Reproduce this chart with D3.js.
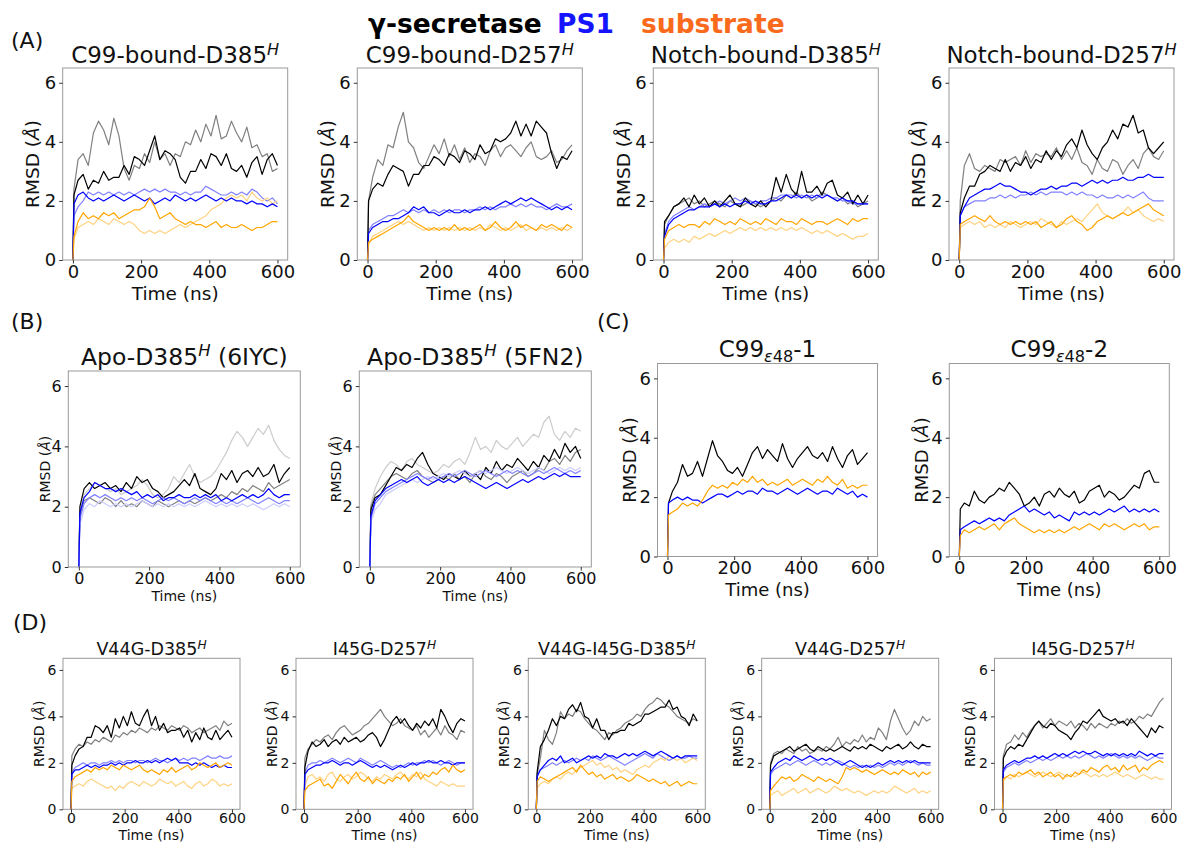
<!DOCTYPE html>
<html>
<head>
<meta charset="utf-8">
<script src="https://cdn.jsdelivr.net/npm/d3@7"></script>
<style>
  body { margin: 0; background: #fff; }
  svg { display: block; font-family: "DejaVu Sans", sans-serif; }
</style>
</head>
<body>
<svg id="chart" width="1185" height="844"></svg>
<script>
// sampling times (ns) shared by every series
const times = [0, 3, 15, 30, 45, 60, 75, 90, 105, 120, 135, 150, 165, 180, 195, 210, 225, 240, 255, 270, 285, 300,
  315, 330, 345, 360, 375, 390, 405, 420, 435, 450, 465, 480, 495, 510, 525, 540, 555, 570, 585, 600];
const timeTicks = [0, 200, 400, 600];
const rmsdTicks = [0, 2, 4, 6];

// rows: gamma-secretase rep2, PS1 rep2, substrate rep2, gamma-secretase rep1, PS1 rep1, substrate rep1
const c99D385 = [
  [0, 2.4, 3.4,3.6,3.2,4.3,4.7,4.4,3.9,4.8,4.2,3.1, 2.7,3.2,3.1,3.6,3.3,4.0,3.4,3.6,3.2,3.6, 3.5,4.0,3.9,4.4,4.0,4.6,4.2,4.9,4.1,4.2, 4.7,4.3,4.0,4.5,3.8,3.9,3.5,3.6,3.0,3.1],
  [0, 1.5, 1.8,2.0,2.3,2.2,2.3,2.2,2.3,2.2,2.3,2.2, 2.3,2.2,2.3,2.4,2.3,2.4,2.3,2.4,2.3,2.3, 2.2,2.3,2.2,2.3,2.3,2.5,2.4,2.3,2.2,2.2, 2.3,2.2,2.3,2.2,2.4,2.3,2.1,2.0,2.1,1.9],
  [0, 0.7, 1.1,1.2,1.3,1.2,1.4,1.3,1.2,1.4,1.3,1.2, 1.3,1.2,1.0,0.9,1.0,0.9,1.0,0.9,1.0,1.1, 1.2,1.1,1.2,1.3,1.4,1.5,1.7,1.8,1.9,2.1, 2.2,2.1,2.2,2.0,2.3,2.1,2.0,2.1,1.9,2.0],
  [0, 2.2, 2.7,2.9,2.4,2.7,2.6,3.0,2.7,2.8,2.8,3.2, 2.9,3.5,3.4,3.2,3.7,4.2,3.4,3.7,3.6,3.4, 2.8,2.6,3.0,3.0,3.4,3.1,3.6,3.5,3.2,3.6, 3.1,3.0,3.2,2.8,3.3,3.5,2.9,3.4,3.6,3.2],
  [0, 1.9, 2.2,2.3,2.1,2.0,2.1,2.0,2.1,2.2,2.1,2.0, 2.1,2.2,2.1,2.0,2.1,1.9,2.0,2.1,2.0,2.2, 2.1,2.0,2.1,2.0,2.1,2.2,2.1,2.0,2.1,2.0, 2.1,2.0,2.0,1.9,2.0,1.9,1.9,1.8,1.9,1.8],
  [0, 0.8, 1.3,1.6,1.4,1.5,1.4,1.6,1.5,1.6,1.4,1.5, 1.6,1.7,1.7,1.8,2.1,1.8,1.4,1.5,1.6,1.4, 1.3,1.2,1.3,1.2,1.2,1.1,1.2,1.3,1.1,1.2, 1.1,1.1,1.2,1.1,1.0,1.1,1.1,1.2,1.3,1.3]
];
const c99D257 = [
  [0, 2.0, 2.8,3.4,3.2,3.9,3.8,4.5,5.0,4.0,3.8,3.3, 3.1,3.5,3.9,3.6,4.1,3.5,3.9,3.4,3.8,3.3, 3.6,3.5,3.2,3.7,3.9,3.5,3.8,3.9,3.7,3.5, 3.8,4.0,3.5,3.4,3.5,3.7,3.3,3.4,3.7,3.9],
  [0, 1.0, 1.2,1.3,1.4,1.5,1.5,1.6,1.7,1.6,1.7,1.6, 1.7,1.6,1.7,1.6,1.7,1.6,1.7,1.7,1.6,1.7, 1.7,1.8,1.7,1.8,1.7,1.8,1.8,1.9,1.8,1.9, 1.8,1.9,1.8,1.8,1.7,1.8,1.9,1.8,1.8,1.9],
  [0, 0.5, 0.8,0.9,1.0,1.1,1.2,1.3,1.2,1.3,1.2,1.1, 1.0,1.1,1.0,1.1,1.0,1.1,1.0,1.1,1.0,1.1, 1.0,1.1,1.0,1.2,1.1,1.0,1.1,1.0,1.1,1.2, 1.0,1.1,1.0,1.1,1.0,1.1,1.0,1.1,1.0,1.1],
  [0, 2.0, 2.4,2.6,2.5,2.9,3.2,3.1,3.0,2.5,2.9,2.9, 3.2,3.2,3.5,3.4,3.2,3.6,3.5,3.3,3.7,3.6, 3.4,3.9,3.6,3.7,4.1,4.0,4.1,4.3,4.7,4.2, 4.6,4.2,4.7,4.5,4.3,3.6,3.1,3.5,3.4,3.7],
  [0, 0.9, 1.1,1.2,1.3,1.3,1.4,1.4,1.5,1.6,1.8,1.7, 1.8,1.6,1.6,1.5,1.6,1.7,1.6,1.6,1.7,1.6, 1.7,1.7,1.8,1.7,1.8,1.9,2.0,1.9,2.0,2.1, 2.0,2.1,2.0,1.9,1.8,1.7,1.8,1.7,1.8,1.7],
  [0, 0.6, 0.7,0.8,0.9,1.0,1.1,1.2,1.3,1.5,1.3,1.2, 1.1,1.0,1.1,1.0,1.1,1.0,1.2,1.0,1.1,1.0, 1.1,1.2,1.0,1.1,1.3,1.1,1.0,1.1,1.3,1.1, 1.2,1.1,1.0,1.2,1.1,1.2,1.1,1.0,1.2,1.1]
];
const notchD385 = [
  [0, 1.2, 1.5,1.8,1.9,2.0,2.1,1.9,2.0,1.8,1.9,2.0, 1.9,1.8,2.0,1.9,1.8,1.9,2.0,1.9,1.8,1.9, 2.0,2.1,2.0,2.2,2.1,2.3,2.1,2.2,2.0,2.1, 2.3,2.2,2.1,2.0,2.1,1.9,2.0,1.8,1.9,2.0],
  [0, 0.9, 1.3,1.5,1.6,1.7,1.8,1.7,1.8,1.9,1.8,1.9, 2.0,1.9,2.0,2.1,2.0,2.1,2.0,1.9,2.0,2.0, 2.1,2.1,2.2,2.2,2.2,2.1,2.2,2.1,2.2,2.1, 2.2,2.2,2.1,2.1,2.0,2.0,1.9,1.9,1.9,1.9],
  [0, 0.4, 0.6,0.7,0.6,0.7,0.6,0.8,0.7,0.8,0.9,0.8, 0.9,1.0,0.9,1.0,1.1,1.0,1.1,1.0,1.1,1.0, 1.1,1.0,1.1,1.0,1.1,1.0,1.1,1.0,0.9,1.0, 0.9,1.0,0.9,0.8,0.9,0.8,0.7,0.8,0.8,0.9],
  [0, 1.3, 1.5,1.8,1.9,2.1,1.8,2.2,1.9,2.1,1.8,2.0, 1.8,2.0,2.2,1.9,1.8,2.1,1.9,1.8,2.0,1.8, 2.0,2.8,2.3,2.9,2.4,2.2,3.0,2.3,2.3,2.5, 2.2,2.6,2.7,2.2,2.1,2.3,1.9,2.2,1.9,2.2],
  [0, 0.8, 1.2,1.4,1.5,1.6,1.7,1.7,1.8,1.8,1.8,1.9, 1.8,1.9,1.8,1.9,1.9,2.0,1.9,2.0,1.9,1.9, 2.0,2.0,2.1,2.2,2.1,2.2,2.1,2.2,2.1,2.2, 2.1,2.2,2.1,2.0,2.1,2.0,2.0,1.9,1.9,1.9],
  [0, 0.7, 1.0,1.1,1.2,1.1,1.2,1.2,1.1,1.3,1.2,1.4, 1.3,1.2,1.3,1.2,1.4,1.3,1.2,1.3,1.2,1.4, 1.3,1.2,1.4,1.3,1.3,1.2,1.4,1.3,1.2,1.3, 1.3,1.2,1.3,1.4,1.3,1.2,1.4,1.3,1.4,1.4]
];
const notchD257 = [
  [0, 2.0, 3.2,3.6,3.1,3.0,3.2,3.1,3.0,3.4,3.3,3.4, 3.5,3.2,3.7,3.3,3.6,3.5,3.6,3.5,3.8,3.4, 3.7,3.4,3.8,3.3,3.2,2.9,3.4,3.1,3.0,3.4, 3.3,2.9,3.2,3.4,3.1,3.6,3.8,3.5,3.4,3.7],
  [0, 1.5, 1.8,1.9,2.0,2.0,2.0,2.1,2.1,2.2,2.1,2.2, 2.1,2.2,2.2,2.3,2.2,2.3,2.2,2.3,2.3,2.3, 2.2,2.3,2.2,2.3,2.2,2.2,2.1,2.2,2.1,2.1, 2.2,2.1,2.2,2.1,2.2,2.3,2.1,2.0,2.0,2.0],
  [0, 1.1, 1.2,1.3,1.2,1.3,1.1,1.2,1.1,1.2,1.1,1.3, 1.2,1.1,1.2,1.3,1.2,1.4,1.3,1.2,1.1,1.3, 1.2,1.3,1.4,1.3,1.5,1.7,1.9,1.6,1.5,1.4, 1.5,1.6,1.8,1.6,1.7,1.5,1.4,1.3,1.4,1.3],
  [0, 1.6, 2.1,2.5,2.5,2.9,3.0,3.2,3.1,3.0,3.4,3.0, 3.3,3.2,3.5,3.1,3.4,3.3,3.7,3.4,3.7,3.5, 3.9,4.1,3.8,4.4,3.9,3.6,3.4,3.8,4.0,4.4, 4.1,4.6,4.5,4.9,4.3,4.4,3.8,3.6,3.8,4.0],
  [0, 1.5, 1.8,2.1,2.2,2.3,2.4,2.4,2.5,2.6,2.5,2.5, 2.4,2.3,2.3,2.2,2.3,2.4,2.4,2.5,2.4,2.5, 2.5,2.6,2.6,2.5,2.6,2.7,2.6,2.7,2.6,2.7, 2.7,2.8,2.7,2.7,2.8,2.8,2.9,2.8,2.8,2.8],
  [0, 1.2, 1.3,1.4,1.5,1.4,1.3,1.5,1.3,1.2,1.3,1.2, 1.3,1.2,1.3,1.2,1.3,1.1,1.2,1.3,1.1,1.2, 1.4,1.5,1.3,1.2,1.0,1.1,1.3,1.4,1.5,1.4, 1.5,1.6,1.5,1.6,1.7,1.8,1.9,1.7,1.6,1.5]
];

// apo rows: gamma-secretase rep3, rep2, rep1, PS1 rep3, rep2, rep1
const apo6IYC = [
  [0, 1.8, 2.4,2.6,2.8,2.7,2.6,2.5,2.6,2.4,2.5,2.6, 2.7,2.9,2.7,2.4,2.3,2.4,2.6,3.0,2.8,3.1, 3.4,3.0,2.8,2.9,3.0,3.2,3.5,3.8,4.2,4.5, 4.3,4.0,4.3,4.6,4.4,4.7,4.2,3.9,3.7,3.6],
  [0, 1.7, 2.2,2.3,2.2,2.1,2.3,2.2,2.0,2.2,2.0,2.1, 2.0,2.2,2.1,2.0,2.2,2.1,2.0,2.1,2.2,2.1, 2.2,2.1,2.2,2.3,2.2,2.3,2.4,2.3,2.5,2.4, 2.6,2.5,2.7,2.6,2.5,2.8,2.6,2.7,2.8,2.9],
  [0, 2.0, 2.6,2.8,2.6,2.7,2.8,2.6,2.7,2.5,2.8,2.6, 3.0,2.8,2.9,2.6,2.5,2.3,2.4,2.5,2.7,2.9, 2.7,3.1,2.6,2.5,2.4,2.6,3.1,2.9,3.2,2.8, 3.1,3.2,3.0,3.3,3.0,3.1,3.4,2.8,3.1,3.3],
  [0, 1.4, 1.9,2.1,2.0,2.2,2.1,2.0,2.1,2.0,2.1,2.0, 2.1,2.2,2.1,2.0,2.1,2.0,2.1,2.0,2.1,2.0, 2.1,2.0,2.1,2.2,2.1,2.0,2.1,2.0,2.1,2.0, 2.1,2.0,2.1,2.0,1.9,2.0,2.1,2.0,2.1,2.0],
  [0, 1.6, 2.1,2.3,2.4,2.3,2.4,2.3,2.2,2.3,2.2,2.3, 2.2,2.3,2.2,2.1,2.2,2.3,2.2,2.3,2.2,2.1, 2.2,2.3,2.2,2.3,2.2,2.1,2.2,2.1,2.2,2.1, 2.2,2.3,2.2,2.1,2.2,2.3,2.2,2.1,2.2,2.2],
  [0, 1.8, 2.3,2.5,2.8,2.7,2.6,2.6,2.5,2.6,2.5,2.4, 2.5,2.3,2.4,2.3,2.4,2.2,2.3,2.3,2.4,2.3, 2.3,2.4,2.3,2.4,2.3,2.4,2.2,2.3,2.2,2.3, 2.4,2.3,2.4,2.3,2.4,2.6,2.4,2.3,2.4,2.4]
];
const apo5FN2 = [
  [0, 2.1, 2.6,3.0,3.3,3.5,3.4,3.2,3.5,3.6,3.4,3.3, 3.2,3.1,3.2,3.4,3.3,3.5,3.6,3.4,3.8,4.3, 3.9,4.0,3.8,4.2,4.0,3.9,4.1,4.3,4.0,4.2, 4.4,4.3,4.8,5.0,4.4,4.2,4.5,4.3,4.6,4.5],
  [0, 2.0, 2.4,2.6,2.8,3.0,3.1,3.0,2.9,3.1,3.2,3.0, 2.9,2.8,2.9,3.0,2.9,3.1,2.9,3.0,2.8,3.1, 3.2,3.0,2.9,3.1,3.0,2.8,3.0,3.1,3.2,3.0, 3.1,3.3,3.2,3.5,3.6,3.4,3.7,3.5,3.8,3.9],
  [0, 1.9, 2.3,2.4,2.7,3.0,3.3,3.2,3.4,3.3,3.6,3.8, 3.4,3.1,3.0,2.9,3.1,3.0,2.9,3.2,3.0,3.1, 2.9,3.3,3.1,3.5,3.2,3.4,3.3,3.6,3.4,3.2, 3.5,3.3,3.7,3.5,3.9,3.6,4.1,3.8,4.0,3.6],
  [0, 1.5, 1.9,2.1,2.4,2.5,2.6,2.7,2.8,2.9,2.8,2.9, 3.0,2.9,3.0,3.1,3.0,3.1,3.2,3.1,3.0,3.1, 3.2,3.1,3.2,3.3,3.2,3.1,3.2,3.3,3.2,3.1, 3.2,3.3,3.2,3.1,3.2,3.3,3.2,3.3,3.2,3.3],
  [0, 1.6, 2.1,2.3,2.5,2.6,2.7,2.8,2.9,3.0,3.1,3.0, 2.9,3.0,2.9,3.0,3.1,3.0,3.1,3.2,3.1,3.0, 3.1,3.2,3.1,3.0,3.1,3.2,3.1,3.2,3.1,3.0, 3.1,3.2,3.1,3.2,3.3,3.2,3.1,3.2,3.1,3.2],
  [0, 1.7, 2.2,2.4,2.6,2.7,2.8,2.9,2.8,2.9,3.0,2.8, 2.7,2.8,2.9,2.8,2.9,2.8,2.9,3.0,2.9,2.8, 2.7,2.6,2.7,2.8,2.7,2.6,2.7,2.8,2.9,2.8, 2.9,3.0,2.9,3.0,3.1,3.0,3.1,3.0,3.0,3.0]
];

// single runs: gamma-secretase, PS1, substrate
const c99E48a = [
  [0, 1.8, 2.2,2.5,3.1,2.7,2.8,3.2,2.7,3.3,3.9,3.4, 3.2,2.9,2.8,3.0,2.7,3.1,3.5,3.7,3.3,3.6, 3.4,3.2,3.8,3.3,3.0,3.3,3.5,3.7,3.4,3.3, 3.5,3.2,3.7,3.3,3.0,3.4,3.6,3.1,3.3,3.5],
  [0, 1.8, 1.9,2.0,1.9,2.0,1.9,1.9,1.8,1.9,2.0,2.1, 2.1,2.0,2.1,2.2,2.1,2.2,2.2,2.1,2.3,2.2, 2.2,2.1,2.2,2.3,2.2,2.1,2.2,2.3,2.2,2.1, 2.2,2.2,2.1,2.3,2.2,2.1,2.2,2.0,2.1,2.0],
  [0, 1.4, 1.5,1.6,1.8,1.7,1.8,1.7,1.9,2.2,2.4,2.3, 2.4,2.3,2.5,2.4,2.6,2.5,2.7,2.5,2.6,2.4, 2.5,2.4,2.5,2.6,2.4,2.5,2.6,2.5,2.4,2.6, 2.5,2.7,2.5,2.4,2.6,2.3,2.4,2.3,2.4,2.4]
];
const c99E48b = [
  [0, 1.6, 1.8,1.7,2.2,1.9,1.8,2.0,2.1,2.3,2.2,2.5, 2.3,2.1,1.7,1.8,2.0,1.7,2.1,2.2,2.0,2.3, 2.1,2.0,2.2,1.8,1.9,2.2,2.3,2.4,2.0,2.2, 2.1,1.9,2.0,2.2,2.4,2.3,2.8,2.9,2.5,2.5],
  [0, 0.9, 1.0,1.1,1.2,1.1,1.2,1.3,1.2,1.3,1.2,1.4, 1.5,1.6,1.7,1.5,1.6,1.5,1.4,1.5,1.3,1.4, 1.3,1.2,1.5,1.4,1.5,1.4,1.5,1.4,1.5,1.6, 1.5,1.6,1.7,1.5,1.6,1.5,1.6,1.5,1.6,1.5],
  [0, 0.7, 0.9,0.8,0.9,1.0,0.9,1.0,1.1,0.9,1.1,1.2, 1.3,1.1,1.0,0.9,0.8,0.9,0.8,0.9,0.8,0.9, 0.8,0.9,1.0,0.9,1.0,1.1,1.0,0.9,1.1,1.0, 1.1,1.0,0.9,1.0,1.1,1.0,1.1,0.9,1.0,1.0]
];

// mutants, same row order as the bound systems
const v44gD385 = [
  [0, 2.3, 2.6,2.8,2.7,2.9,2.8,3.0,2.9,3.1,3.0,2.9, 3.2,3.1,3.3,3.2,3.4,3.3,3.5,3.4,3.3,3.5, 3.4,3.6,3.5,3.4,3.6,3.5,3.4,3.6,3.5,3.3, 3.4,3.5,3.3,3.4,3.5,3.6,3.4,3.8,3.6,3.7],
  [0, 1.6, 1.8,1.9,2.0,1.9,2.0,2.0,1.9,2.0,2.0,2.1, 2.0,2.1,2.0,2.1,2.1,2.0,2.1,2.1,2.0,2.1, 2.2,2.1,2.1,2.0,2.1,2.2,2.1,2.2,2.1,2.2, 2.2,2.1,2.2,2.3,2.2,2.2,2.3,2.2,2.2,2.3],
  [0, 0.9, 1.0,1.1,1.0,1.2,1.3,1.2,1.1,1.0,0.9,1.0, 0.8,1.0,0.9,1.1,1.2,1.1,1.0,1.2,1.1,1.0, 1.1,1.3,1.2,1.1,1.2,1.0,1.1,1.2,1.0,0.9, 1.1,1.2,1.0,1.1,1.3,1.2,1.0,1.1,1.0,1.1],
  [0, 1.9, 2.3,2.6,2.7,3.1,3.1,3.6,3.5,3.3,3.6,3.1, 3.9,3.5,4.0,3.6,4.2,3.7,3.6,4.0,4.3,3.6, 4.0,3.4,3.7,3.3,3.4,3.4,3.5,3.1,3.4,2.9, 3.3,3.0,3.5,3.1,3.0,3.4,3.0,3.2,3.4,3.1],
  [0, 1.5, 1.7,1.7,1.8,1.9,1.8,1.9,1.8,1.9,1.9,2.0, 1.9,2.0,1.9,2.0,2.0,2.1,2.0,2.0,2.1,2.0, 2.1,2.0,2.1,2.2,2.1,2.2,2.0,2.0,2.0,1.9, 2.0,1.9,2.0,1.9,1.8,1.9,1.8,1.9,1.8,1.8],
  [0, 1.2, 1.4,1.5,1.6,1.7,1.6,1.8,1.7,1.8,1.7,1.9, 1.8,1.7,1.9,1.8,1.7,1.8,1.9,1.7,1.6,1.7, 1.6,1.5,1.7,1.6,1.8,1.6,1.7,1.8,1.9,1.7, 1.8,2.0,1.9,1.8,1.9,2.0,1.8,1.9,2.0,1.9]
];
const i45gD257 = [
  [0, 2.2, 2.6,2.8,3.0,2.9,3.1,3.2,3.0,3.3,3.5,3.6, 3.4,3.2,3.3,3.4,3.6,3.7,3.9,4.1,4.3,4.0, 3.8,3.6,3.7,3.9,3.6,3.5,3.4,3.6,3.2,3.4, 3.1,3.3,3.5,3.2,3.6,3.3,3.2,3.0,3.4,3.3],
  [0, 1.6, 1.9,2.0,2.0,2.1,2.0,2.1,2.2,2.1,2.0,2.1, 2.2,2.1,2.0,2.2,2.1,2.0,1.9,2.0,2.1,2.0, 1.9,1.8,1.9,1.8,1.9,2.0,1.9,2.0,2.0,2.1, 2.0,2.1,2.0,1.9,2.0,2.1,2.0,1.9,2.0,2.0],
  [0, 1.0, 1.4,1.5,1.3,1.4,1.2,1.5,1.6,1.3,1.2,1.4, 1.5,1.3,1.4,1.6,1.5,1.3,1.2,1.4,1.3,1.5, 1.4,1.3,1.5,1.6,1.4,1.3,1.5,1.4,1.6,1.3, 1.2,1.1,1.0,1.2,1.1,1.0,1.1,1.0,1.0,1.0],
  [0, 1.8, 2.5,2.9,2.7,2.8,3.0,2.7,2.9,3.0,2.8,3.1, 2.9,3.0,3.1,2.9,3.0,3.2,3.3,3.1,2.7,3.0, 3.4,3.8,4.0,3.7,3.9,3.6,3.4,3.7,3.5,3.8, 3.6,3.9,3.5,4.3,4.0,3.6,3.3,3.7,3.9,3.8],
  [0, 1.5, 1.7,1.8,1.9,1.9,2.0,2.0,2.1,2.0,1.9,2.0, 2.0,1.9,2.0,2.1,2.0,1.9,1.8,1.9,1.8,1.9, 1.8,1.7,1.8,1.9,1.8,1.9,2.0,1.9,2.0,2.0, 2.1,2.0,2.0,2.1,2.0,2.0,1.9,2.0,2.0,2.0],
  [0, 0.8, 1.0,1.1,1.2,1.3,1.0,1.1,0.9,1.2,1.5,1.3, 1.1,1.4,1.6,1.3,1.2,1.4,1.1,1.3,1.2,1.1, 1.3,1.2,1.4,1.3,1.5,1.2,1.4,1.6,1.3,1.5, 1.4,1.6,1.5,1.7,1.8,1.6,1.9,1.7,1.6,1.7]
];
const v44gI45gD385 = [
  [0, 1.5, 2.2,3.4,3.0,2.8,3.3,4.2,3.9,4.1,4.0,4.3, 4.2,3.9,3.7,3.5,3.4,3.2,3.0,3.3,3.2,3.4, 3.5,3.7,3.8,3.9,4.1,4.0,4.3,4.5,4.6,4.8, 4.7,4.5,4.4,4.2,4.0,3.9,3.8,3.7,3.9,3.8],
  [0, 1.5, 1.7,1.8,1.9,2.0,1.9,2.0,2.1,2.0,2.1,2.2, 2.1,2.2,2.1,2.3,2.2,2.1,2.2,2.3,2.2,2.1, 2.0,1.9,2.0,2.1,2.2,2.3,2.4,2.3,2.2,2.4, 2.3,2.2,2.1,2.2,2.3,2.2,2.2,2.3,2.2,2.2],
  [0, 0.9, 1.1,1.2,1.1,1.3,1.4,1.3,1.5,1.6,1.5,1.7, 1.8,1.9,2.0,2.1,1.9,2.0,1.8,1.9,1.7,1.8, 1.6,1.7,1.6,1.5,1.7,1.8,1.9,1.8,2.0,2.1, 2.2,2.1,2.3,2.2,2.1,2.2,2.0,2.1,2.2,2.1],
  [0, 1.6, 2.7,3.0,3.4,3.9,3.6,4.0,3.9,4.3,4.5,4.2, 4.6,4.0,3.9,3.5,3.9,3.4,3.4,3.0,3.3,3.3, 3.4,3.4,3.7,3.6,3.7,3.8,4.1,4.1,4.2,4.3, 4.4,4.4,4.7,4.3,4.4,4.0,3.9,3.6,4.1,3.8],
  [0, 1.4, 1.7,1.9,2.1,2.2,2.1,2.3,2.0,2.1,2.2,2.0, 2.1,2.2,2.3,2.2,2.3,2.2,2.4,2.3,2.3,2.2, 2.3,2.4,2.3,2.4,2.3,2.4,2.5,2.4,2.3,2.4, 2.5,2.4,2.3,2.2,2.3,2.2,2.3,2.3,2.3,2.3],
  [0, 1.2, 1.4,1.3,1.2,1.3,1.4,1.5,1.6,1.7,1.8,1.6, 1.9,1.7,1.5,1.6,1.4,1.5,1.3,1.4,1.5,1.3, 1.4,1.3,1.2,1.3,1.5,1.4,1.3,1.2,1.3,1.2, 1.1,1.2,1.0,1.1,1.2,1.0,1.1,1.2,1.1,1.1]
];
const v44gD257 = [
  [0, 2.0, 2.4,2.5,2.4,2.6,2.5,2.4,2.7,2.5,2.6,2.4, 2.5,2.6,2.5,2.7,2.6,2.8,3.1,2.7,2.9,2.8, 3.0,2.9,3.2,2.9,3.1,3.0,3.5,3.3,3.0,3.8, 4.3,3.9,3.5,3.2,3.4,3.8,3.6,4.0,3.8,3.9],
  [0, 1.5, 1.7,1.8,1.9,2.0,1.9,2.0,2.1,2.0,1.9,2.0, 2.1,2.0,1.9,2.0,1.9,2.0,2.1,2.0,1.9,1.8, 1.9,1.8,1.9,1.8,1.9,1.8,1.9,1.8,1.9,2.0, 1.9,2.0,1.9,2.0,2.1,2.0,1.9,2.0,1.9,1.9],
  [0, 0.6, 0.7,0.8,0.6,0.7,0.8,0.9,0.7,0.8,0.9,0.7, 0.8,0.9,0.8,0.7,0.8,1.0,0.9,0.8,0.9,0.8, 0.7,0.8,0.7,0.6,0.7,0.8,0.7,0.8,0.7,0.8, 1.0,0.9,0.8,0.7,0.8,0.9,0.7,0.8,0.7,0.8],
  [0, 1.9, 2.3,2.4,2.5,2.6,2.7,2.5,2.6,2.7,2.8,2.6, 2.5,2.7,2.6,2.5,2.6,2.5,2.6,2.7,2.6,2.5, 2.7,2.6,2.7,2.6,2.8,2.7,2.6,2.5,2.7,2.6, 2.7,2.8,2.6,2.7,2.9,2.7,2.6,2.8,2.7,2.7],
  [0, 1.6, 1.8,2.0,2.1,2.2,2.1,2.3,2.2,2.1,2.2,2.3, 2.2,2.1,2.2,2.1,2.2,2.1,2.0,1.9,2.0,2.1, 2.0,1.9,1.8,1.9,1.8,1.9,2.0,1.9,2.0,2.1, 2.0,2.1,2.0,2.1,2.0,2.1,2.0,2.0,2.0,2.0],
  [0, 0.8, 1.0,1.2,1.4,1.3,1.4,1.2,1.3,1.5,1.4,1.3, 1.2,1.4,1.3,1.2,1.3,1.2,1.1,1.4,1.8,1.7, 1.8,1.7,1.6,1.7,1.6,1.5,1.6,1.7,1.6,1.5, 1.6,1.5,1.7,1.6,1.5,1.6,1.4,1.6,1.5,1.6]
];
const i45gD257b = [
  [0, 2.3, 2.8,2.9,3.2,3.0,3.3,3.1,3.4,3.6,3.8,3.5, 3.7,3.9,3.6,3.8,3.7,3.6,3.8,3.5,3.7,3.6, 3.4,3.7,3.5,3.7,3.6,3.5,3.7,3.6,3.8,3.7, 3.9,3.7,3.8,4.0,3.9,4.1,4.0,4.3,4.6,4.8],
  [0, 1.6, 1.8,1.9,2.0,1.9,2.0,2.1,2.0,2.1,2.2,2.1, 2.2,2.1,2.2,2.3,2.2,2.3,2.2,2.3,2.2,2.3, 2.4,2.3,2.2,2.3,2.2,2.3,2.4,2.3,2.2,2.3, 2.2,2.3,2.2,2.3,2.2,2.1,2.2,2.3,2.2,2.2],
  [0, 1.2, 1.4,1.3,1.5,1.4,1.5,1.6,1.5,1.4,1.5,1.6, 1.5,1.4,1.5,1.6,1.5,1.4,1.5,1.4,1.5,1.6, 1.5,1.4,1.5,1.4,1.5,1.4,1.5,1.6,1.5,1.4, 1.5,1.4,1.3,1.4,1.5,1.4,1.3,1.4,1.3,1.3],
  [0, 2.2, 2.5,2.7,2.6,2.8,2.7,3.0,3.3,3.6,3.8,3.6, 3.5,3.7,3.6,3.4,3.3,3.2,3.0,3.3,3.5,3.8, 3.7,3.9,4.1,4.3,4.0,3.9,3.8,3.9,3.7,3.8, 3.6,3.9,3.7,3.5,3.3,3.1,3.5,3.3,3.6,3.5],
  [0, 1.7, 1.9,2.0,2.1,2.0,2.1,2.2,2.2,2.3,2.2,2.3, 2.2,2.3,2.4,2.3,2.4,2.3,2.4,2.5,2.4,2.5, 2.4,2.4,2.5,2.4,2.3,2.4,2.3,2.4,2.3,2.4, 2.3,2.4,2.3,2.5,2.4,2.3,2.4,2.3,2.4,2.4],
  [0, 1.3, 1.4,1.5,1.4,1.6,1.5,1.6,1.7,1.5,1.6,1.4, 1.5,1.6,1.4,1.5,1.3,1.5,1.4,1.6,1.5,1.7, 1.6,1.8,1.7,1.6,1.8,1.9,1.7,1.8,1.6,1.9, 1.7,1.8,1.9,1.6,1.8,1.7,1.9,2.0,2.1,2.0]
];

// panel titles as [text, kind] pieces
const titleC99D385 = [["C99-bound-D385"], ["H", "sup"]];
const titleC99D257 = [["C99-bound-D257"], ["H", "sup"]];
const titleNotchD385 = [["Notch-bound-D385"], ["H", "sup"]];
const titleNotchD257 = [["Notch-bound-D257"], ["H", "sup"]];
const title6IYC = [["Apo-D385"], ["H", "sup"], [" (6IYC)"]];
const title5FN2 = [["Apo-D385"], ["H", "sup"], [" (5FN2)"]];
const titleE48a = [["C99"], ["\u03b5", "subi"], ["48", "sub"], ["-1"]];
const titleE48b = [["C99"], ["\u03b5", "subi"], ["48", "sub"], ["-2"]];
const titleV44G = [["V44G-D385"], ["H", "sup"]];
const titleI45G = [["I45G-D257"], ["H", "sup"]];
const titleV44GI45G = [["V44G-I45G-D385"], ["H", "sup"]];
const titleV44G257 = [["V44G-D257"], ["H", "sup"]];

const colorsBound = ["#808080", "#8080ff", "#ffd280", "#000000", "#0000ff", "#ffa500"];
const colorsApo = ["#cccccc", "#808080", "#000000", "#ccccff", "#8080ff", "#0000ff"];
const colorsSingle = ["#000000", "#0000ff", "#ffa500"];

const svg = d3.select("#chart");
svg.append("rect").attr("width", 1185).attr("height", 844).attr("fill", "#fff");

// row geometry
const rowA = { top: 68, h: 192, w: 225, title: 23, titleGap: 5, tick: 18, pad: 1.8, label: 18.5, yOff: 30, xOff: 40 };
const rowB = { top: 371, h: 196, w: 232, title: 23.5, titleGap: 6, tick: 16, pad: 2, label: 14, yOff: 23, xOff: 34 };
const rowC = { top: 363.5, h: 193, w: 220, title: 23, titleGap: 7, tick: 18, pad: 1.5, label: 18, yOff: 28, xOff: 39.3 };
const rowD = { top: 658.3, h: 151, w: 177, title: 17.5, titleGap: 3, tick: 14, pad: 0.5, label: 14, yOff: 24, xOff: 31 };

function drawTitle(g, row, pieces) {
  const F = row.title;
  const t = g.append("text")
    .attr("x", row.w / 2)
    .attr("y", -row.titleGap)
    .attr("text-anchor", "middle")
    .attr("font-size", F)
    .attr("fill", "#111");
  let cur = 0;
  pieces.forEach(([txt, kind]) => {
    let target = 0, size = F, style = "normal";
    if (kind === "sup") { target = -0.37 * F; size = 0.7 * F; style = "italic"; }
    if (kind === "subi" || kind === "sub") { target = 0.22 * F; size = 0.7 * F; }
    if (kind === "subi") style = "italic";
    t.append("tspan")
      .attr("dy", target - cur)
      .attr("font-size", size)
      .attr("font-style", style)
      .text(txt);
    cur = target;
  });
}

function drawPanel(row, left, pieces, series, colors) {
  const g = svg.append("g").attr("transform", `translate(${left},${row.top})`);
  const x = d3.scaleLinear().domain([-30, 630]).range([0, row.w]);
  const y = d3.scaleLinear().domain([0, 6.5]).range([row.h, 0]);
  const line = d3.line()
    .x((d, i) => x(times[i]))
    .y(d => y(d));

  series.forEach((s, i) => {
    g.append("path")
      .attr("d", line(s))
      .attr("fill", "none")
      .attr("stroke", colors[i])
      .attr("stroke-width", 1.2)
      .attr("stroke-linejoin", "round");
  });

  g.append("rect")
    .attr("width", row.w)
    .attr("height", row.h)
    .attr("fill", "none")
    .attr("stroke", "#999")
    .attr("stroke-width", 1);

  const xa = g.append("g")
    .attr("transform", `translate(0,${row.h})`)
    .call(d3.axisBottom(x).tickValues(timeTicks).tickSize(3.5).tickPadding(row.pad).tickFormat(d3.format("d")));
  const ya = g.append("g")
    .call(d3.axisLeft(y).tickValues(rmsdTicks).tickSize(3.5).tickPadding(3).tickFormat(d3.format("d")));
  [xa, ya].forEach(a => {
    a.select(".domain").remove();
    a.attr("font-family", null).attr("font-size", null);
    a.selectAll("line").attr("stroke", "#333");
    a.selectAll("text").attr("font-size", row.tick).attr("fill", "#111");
  });

  g.append("text")
    .attr("x", row.w / 2)
    .attr("y", row.h + row.xOff)
    .attr("text-anchor", "middle")
    .attr("font-size", row.label)
    .attr("fill", "#111")
    .text("Time (ns)");

  const yl = g.append("text")
    .attr("transform", `translate(${-row.yOff},${row.h / 2}) rotate(-90)`)
    .attr("dy", "0.35em")
    .attr("text-anchor", "middle")
    .attr("font-size", row.label)
    .attr("fill", "#111");
  yl.append("tspan").text("RMSD (");
  yl.append("tspan").attr("font-style", "italic").text("\u00c5");
  yl.append("tspan").text(")");

  drawTitle(g, row, pieces);
}

drawPanel(rowA, 62.7, titleC99D385, c99D385, colorsBound);
drawPanel(rowA, 357.3, titleC99D257, c99D257, colorsBound);
drawPanel(rowA, 653.3, titleNotchD385, notchD385, colorsBound);
drawPanel(rowA, 949, titleNotchD257, notchD257, colorsBound);

drawPanel(rowB, 68.3, title6IYC, apo6IYC, colorsApo);
drawPanel(rowB, 359.3, title5FN2, apo5FN2, colorsApo);

drawPanel(rowC, 657.5, titleE48a, c99E48a, colorsSingle);
drawPanel(rowC, 949.3, titleE48b, c99E48b, colorsSingle);

drawPanel(rowD, 63, titleV44G, v44gD385, colorsBound);
drawPanel(rowD, 296, titleI45G, i45gD257, colorsBound);
drawPanel(rowD, 528.3, titleV44GI45G, v44gI45gD385, colorsBound);
drawPanel(rowD, 761.7, titleV44G257, v44gD257, colorsBound);
drawPanel(rowD, 994.5, titleI45G, i45gD257b, colorsBound);

// headline legend
const head = [["\u03b3-secretase", "#000000", 368], ["PS1", "#1414ff", 557], ["substrate", "#fa6a1c", 641]];
head.forEach(([txt, col, hx]) => {
  svg.append("text")
    .attr("x", hx)
    .attr("y", 32.5)
    .attr("font-size", 26.5)
    .attr("font-weight", "bold")
    .attr("fill", col)
    .text(txt);
});

// panel letters
[["(A)", 11, 48], ["(B)", 11, 329], ["(C)", 597, 329], ["(D)", 13, 630]].forEach(([txt, lx, ly]) => {
  svg.append("text")
    .attr("x", lx)
    .attr("y", ly)
    .attr("font-size", 22)
    .attr("fill", "#111")
    .text(txt);
});
</script>
</body>
</html>
